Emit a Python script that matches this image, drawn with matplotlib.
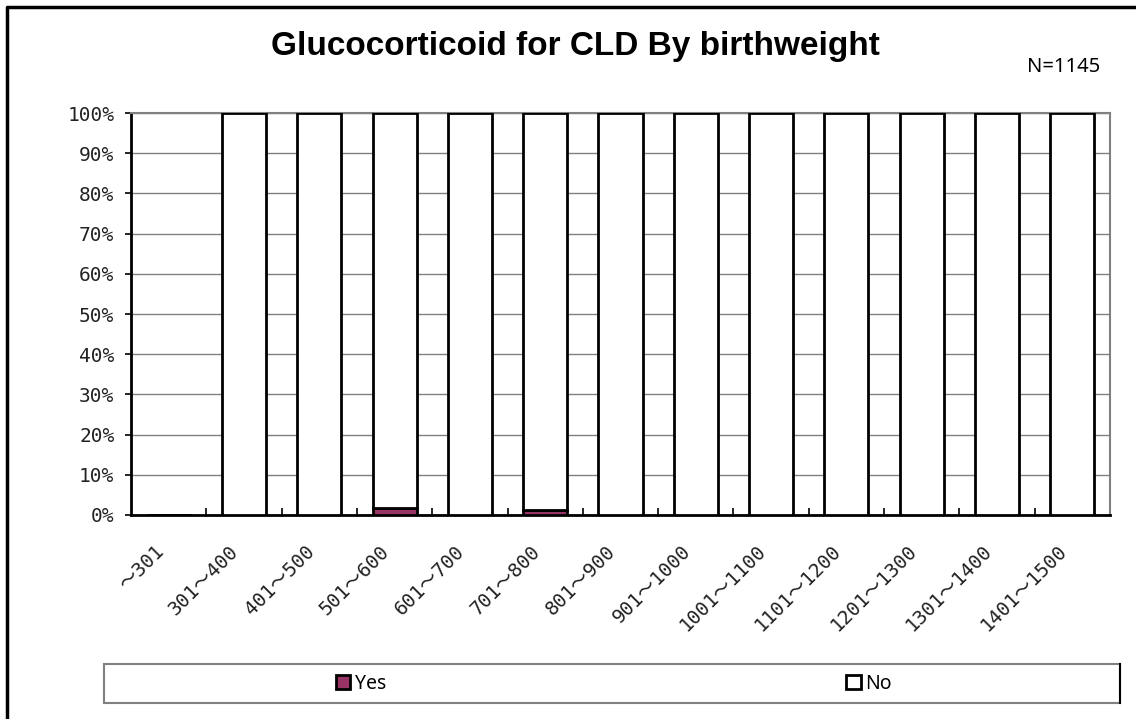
import numpy as np
import matplotlib
matplotlib.use("Agg")
import matplotlib.pyplot as plt
from matplotlib.lines import Line2D
from matplotlib.patches import Rectangle
from matplotlib.transforms import ScaledTranslation
import matplotlib.ticker as ticker

categories = ['〜301', '301〜400', '401〜500', '501〜600', '601〜700', '701〜800',
              '801〜900', '901〜1000', '1001〜1100', '1101〜1200', '1201〜1300',
              '1301〜1400', '1401〜1500']
yes_pct = [0, 0, 0, 1.8, 0, 1.3, 0, 0, 0, 0, 0, 0, 0]
no_pct = [0, 100, 100, 98.2, 100, 98.7, 100, 100, 100, 100, 100, 100, 100]
y_ticks = [0, 10, 20, 30, 40, 50, 60, 70, 80, 90, 100]

W, H = 1136, 719
fig = plt.figure(figsize=(W / 100, H / 100), dpi=100)
ax = fig.add_axes([131 / W, 1 - 515 / H, (1110 - 131) / W, (515 - 113) / H])

mono = ['DejaVu Sans Mono', 'Noto Sans CJK JP']

x = np.arange(len(categories))
bw = 0.585
b_yes = ax.bar(x, yes_pct, width=bw, color='#993366', edgecolor='black', linewidth=2, zorder=3, label='Yes')
b_no = ax.bar(x, no_pct, width=bw, bottom=yes_pct, color='white', edgecolor='black', linewidth=2, zorder=3, label='No')

ax.set_xlim(-0.5, len(categories) - 0.5)
ax.set_ylim(0, 100)
ax.set_yticks(y_ticks)
ax.set_yticklabels([f'{v}%' for v in y_ticks], family=mono, fontsize=14, color='#222222')
ax.yaxis.grid(True, color='#808080', linewidth=1)
ax.set_axisbelow(True)
ax.tick_params(axis='y', length=4, width=1.2, direction='out', pad=8)

ax.set_xticks(x)
ax.set_xticklabels(categories, family=mono, fontsize=14, rotation=45, color='#222222',
                   ha='right', va='center', rotation_mode='anchor')
ax.tick_params(axis='x', which='major', length=0, pad=24)
for lab in ax.get_xticklabels():
    lab.set_transform(lab.get_transform() + ScaledTranslation(-8 / 100, 0, fig.dpi_scale_trans))
ax.xaxis.set_minor_locator(ticker.FixedLocator(np.arange(0.5, len(categories) - 1, 1)))
ax.tick_params(axis='x', which='minor', length=5, width=1.2, direction='in', color='black')

ax.spines['left'].set_linewidth(2)
ax.spines['bottom'].set_linewidth(2)
ax.spines['top'].set_color('#808080')
ax.spines['right'].set_color('#808080')
ax.spines['top'].set_linewidth(1.5)
ax.spines['right'].set_linewidth(1.5)

fig.text(575 / W, 1 - 47 / H, 'Glucocorticoid for CLD By birthweight', ha='center', va='center',
         fontsize=24, fontweight='bold', family='Liberation Sans')
fig.text(1100 / W, 1 - 67 / H, 'N=1145', ha='right', va='center', fontsize=14.5, family='Noto Sans')

# legend box
fig.patches.append(Rectangle((104 / W, 1 - 703 / H), (1120 - 104) / W, (703 - 664) / H,
                             transform=fig.transFigure, fill=False, edgecolor='#808080', linewidth=1.5))
fig.lines.append(Line2D([1120 / W, 1120 / W], [1 - 703 / H, 1 - 664 / H], transform=fig.transFigure,
                        color='black', linewidth=1.5))
leg_kw = dict(loc='center', frameon=False, prop={'family': 'Noto Sans', 'size': 14},
              handlelength=0.75, handleheight=0.75, handletextpad=0.25)
fig.legend(handles=[b_yes], bbox_to_anchor=(361 / W, 1 - 684 / H), **leg_kw)
fig.legend(handles=[b_no], bbox_to_anchor=(869 / W, 1 - 684 / H), **leg_kw)

# outer border
fig.lines.append(Line2D([7 / W, 7 / W, 1.0], [0.0, 1 - 7 / H, 1 - 7 / H], transform=fig.transFigure,
                        color='black', linewidth=2.5))

fig.savefig('out.png', dpi=100)
